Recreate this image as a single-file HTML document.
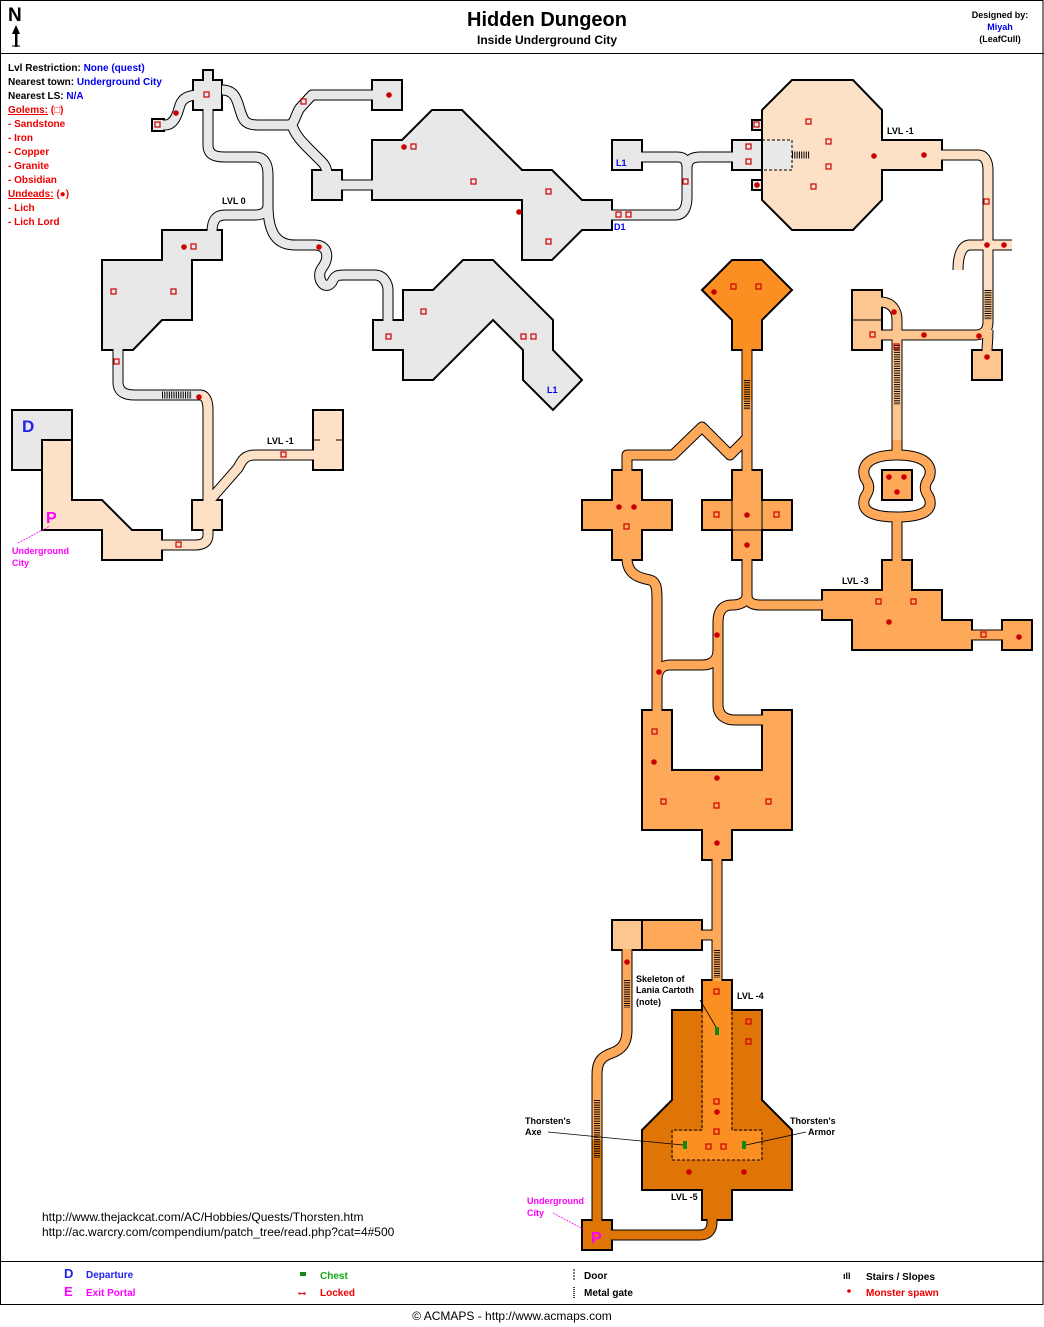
<!DOCTYPE html>
<html><head><meta charset="utf-8"><style>
html,body{margin:0;padding:0;background:#fff}
svg{display:block}
text{font-family:"Liberation Sans",Arial,sans-serif;font-weight:bold}
</style></head><body>
<svg width="1044" height="1327" viewBox="0 0 1044 1327" xmlns="http://www.w3.org/2000/svg">
<defs>
<g id="c0" fill="none">
<path d="M158,125 L165,125 C175,125 178,112 180,105 C183,97 190,95 200,95"/>
<path d="M208,105 L208,145 C208,155 215,157 225,157 L255,157 C265,157 268,165 268,175 L268,205 C268,212 262,215 255,215 L225,215 C215,215 212,222 212,232"/>
<path d="M268,205 C268,235 278,245 295,245 L315,245 C328,245 330,258 322,268 C315,278 325,292 332,282 C335,275 338,275 345,275 L375,275 C383,275 388,283 388,290 L388,325"/>
<path d="M222,90 C235,90 237,100 240,110 C243,120 245,125 258,125 L288,125 C295,125 295,115 300,108 L312,95 L375,95"/>
<path d="M292,125 C295,135 302,142 310,150 L322,162 C328,168 327,175 327,180"/>
<path d="M340,185 L375,185"/>
<path d="M610,215 L675,215 C685,215 687,205 687,197 L687,168 C687,160 692,157 700,157 L735,157"/>
<path d="M640,157 L678,157 C685,157 687,162 687,168"/>
<path d="M118,345 L118,382 C118,392 125,395 135,395 L200,395"/>
</g>
<g id="c1" fill="none">
<path d="M200,395 C205,395 208,400 208,410 L208,505"/>
<path d="M208,528 L208,535 C208,542 203,545 195,545 L160,545"/>
<path d="M210,500 L238,468 C242,460 245,455 255,455 L315,455"/>
<path d="M940,155 L978,155 C985,155 988,162 988,170 L988,292"/>
<path d="M988,245 L1012,245"/>
<path d="M988,245 L970,245 C962,245 958,255 958,270"/>
</g>
<g id="c2" fill="none">
<path d="M988,290 L988,322 C988,330 984,335 975,335 L880,335"/>
<path d="M988,330 C988,340 987,345 987,352"/>
<path d="M880,302 C892,302 897,310 897,320 L897,445"/>
</g>
<g id="c3" fill="none">
<path d="M747,395 L747,505"/>
<path d="M627,472 L627,455 L673,455 L702,427 L730,455 L747,438"/>
<path d="M897,440 L897,455"/>
<path d="M897,455 C870,455 860,465 865,478 C870,485 870,490 865,497 C860,510 870,517 897,517 C924,517 934,510 929,497 C924,490 924,485 929,478 C934,465 924,455 897,455 Z"/>
<path d="M897,517 L897,565"/>
<path d="M747,558 L747,595 C747,602 752,605 760,605 L825,605"/>
<path d="M747,595 C747,602 740,605 732,605 C722,605 718,612 718,622 L718,650 C718,660 712,665 702,665 L670,665 C662,665 657,670 657,680"/>
<path d="M718,650 L718,705 C718,715 725,720 735,720 L765,720"/>
<path d="M627,558 C627,575 640,578 650,580 C657,582 657,590 657,600 L657,713"/>
<path d="M970,635 L1005,635"/>
<path d="M717,858 L717,985"/>
<path d="M700,935 L717,935"/>
<path d="M627,948 L627,1030 C627,1045 620,1050 612,1053 C600,1057 597,1063 597,1075 L597,1145"/>
</g>
<g id="c4" fill="none">
<path d="M747,345 L747,400"/>
</g>
<g id="c5" fill="none">
<path d="M597,1140 L597,1225"/>
<path d="M610,1235 L700,1235 C708,1235 712,1230 712,1222 L712,1215"/>
</g>
</defs>

<rect x="0.5" y="0.5" width="1042.5" height="1304" fill="none" stroke="#000"/>
<line x1="0" y1="53.5" x2="1044" y2="53.5" stroke="#000"/>
<line x1="0" y1="1261.5" x2="1044" y2="1261.5" stroke="#000"/>

<g stroke="#000" stroke-width="11" stroke-linejoin="round">
<use href="#c0"/><use href="#c1"/><use href="#c2"/><use href="#c3"/><use href="#c4"/><use href="#c5"/>
</g>
<g stroke="#000" stroke-width="2">
<g fill="#e8e8e8">
<polygon points="203,70 213,70 213,80 222,80 222,110 193,110 193,80 203,80"/>
<rect x="152" y="119" width="12" height="12"/>
<rect x="372" y="80" width="30" height="30"/>
<rect x="312" y="170" width="30" height="30"/>
<polygon points="372,140 402,140 432,110 462,110 492,140 522,170 552,170 582,200 612,200 612,230 582,230 552,260 522,260 522,200 372,200"/>
<rect x="612" y="140" width="30" height="30"/>
<rect x="732" y="140" width="30" height="30"/>
<rect x="752" y="120" width="10" height="10"/>
<rect x="752" y="180" width="10" height="10"/>
<polygon points="102,260 162,260 162,230 222,230 222,260 192,260 192,320 162,320 133,350 102,350"/>
<polygon points="403,290 433,290 463,260 493,260 553,320 553,350 582,380 553,410 523,380 523,350 493,320 433,380 403,380 403,350 373,350 373,320 403,320"/>
<rect x="12" y="410" width="60" height="60"/>
</g>
<g fill="#fde1c6">
<polygon points="792,80 853,80 882,110 882,140 942,140 942,170 882,170 882,200 853,230 792,230 762,200 762,110"/>
<polygon points="42,440 72,440 72,500 102,500 132,530 162,530 162,560 102,560 102,530 42,530"/>
<rect x="192" y="500" width="30" height="30"/>
<rect x="313" y="410" width="30" height="60"/>
</g>
<g fill="#fcc690">
<rect x="852" y="290" width="30" height="60"/>
<rect x="972" y="350" width="30" height="30"/>
<rect x="612" y="920" width="30" height="30"/>
</g>
<g fill="#fea95a">
<polygon points="612,470 642,470 642,500 672,500 672,530 642,530 642,560 612,560 612,530 582,530 582,500 612,500"/>
<polygon points="702,500 732,500 732,470 762,470 762,500 792,500 792,530 762,530 762,560 732,560 732,530 702,530"/>
<rect x="882" y="470" width="30" height="30"/>
<polygon points="882,560 912,560 912,590 942,590 942,620 972,620 972,650 852,650 852,620 822,620 822,590 882,590"/>
<rect x="1002" y="620" width="30" height="30"/>
<polygon points="642,710 672,710 672,770 762,770 762,710 792,710 792,830 732,830 732,860 702,860 702,830 642,830"/>
<rect x="642" y="920" width="60" height="30"/>
</g>
<g fill="#fb8f22">
<polygon points="732,260 762,260 792,290 762,320 762,350 732,350 732,320 702,290"/>
<rect x="702" y="980" width="30" height="40"/>
</g>
<g fill="#e07507">
<polygon points="672,1010 762,1010 762,1100 792,1130 792,1190 732,1190 732,1220 702,1220 702,1190 642,1190 642,1130 672,1100"/>
<rect x="582" y="1220" width="30" height="30"/>
</g>
</g>

<g stroke-width="9" stroke-linejoin="round">
<use href="#c0" stroke="#e8e8e8"/>
<use href="#c1" stroke="#fde1c6"/>
<use href="#c2" stroke="#fcc690"/>
<use href="#c3" stroke="#fea95a"/>
<use href="#c4" stroke="#fb8f22"/>
<use href="#c5" stroke="#e07507"/>
</g>
<g stroke="none">
<rect x="763" y="141" width="30" height="28" fill="#e8e8e8"/>
<polygon points="43,441 71,441 71,501 101,501 131,531 161,531 161,559 103,559 103,529 43,529" fill="#fde1c6"/>
<rect x="703" y="981" width="28" height="30" fill="#fb8f22"/>
<rect x="703" y="1011" width="28" height="120" fill="#fb8f22"/>
<rect x="673" y="1131" width="88" height="29" fill="#fb8f22"/>
<rect x="613" y="921" width="28" height="28" fill="#fcc690"/>
</g>
<g fill="none" stroke="#000" stroke-width="1" stroke-dasharray="3,2">
<polyline points="762,140 792,140 792,170 762,170"/>
<polyline points="42,470 42,440 72,440"/>
<line x1="642" y1="920" x2="642" y2="950"/>
<polyline points="702,1010 702,1130 672,1130 672,1160 762,1160 762,1130 732,1130 732,1010"/>
</g>
<line x1="313" y1="440" x2="320" y2="440" stroke="#000"/><line x1="336" y1="440" x2="343" y2="440" stroke="#000"/>
<line x1="732" y1="500" x2="732" y2="530" stroke="#000"/><line x1="762" y1="500" x2="762" y2="530" stroke="#000"/><line x1="732" y1="530" x2="762" y2="530" stroke="#000"/>
<line x1="852" y1="320" x2="882" y2="320" stroke="#000"/>

<g stroke="#000" stroke-width="1" stroke-dasharray="1,1.3">
<line x1="162" y1="395" x2="192" y2="395" stroke-width="7"/>
<line x1="792" y1="155" x2="810" y2="155" stroke-width="7"/>
<line x1="988" y1="290" x2="988" y2="320" stroke-width="7"/>
<line x1="897" y1="345" x2="897" y2="405" stroke-width="6"/>
<line x1="747" y1="380" x2="747" y2="410" stroke-width="6"/>
<line x1="717" y1="950" x2="717" y2="978" stroke-width="6"/>
<line x1="627" y1="980" x2="627" y2="1008" stroke-width="6"/>
<line x1="597" y1="1100" x2="597" y2="1158" stroke-width="6"/>
</g>

<g fill="none" stroke="#cc0000" stroke-width="1.2">
<rect x="155" y="122" width="5" height="5"/><rect x="204" y="92" width="5" height="5"/><rect x="301" y="99" width="5" height="5"/>
<rect x="411" y="144" width="5" height="5"/><rect x="471" y="179" width="5" height="5"/><rect x="546" y="189" width="5" height="5"/><rect x="546" y="239" width="5" height="5"/>
<rect x="191" y="244" width="5" height="5"/><rect x="111" y="289" width="5" height="5"/><rect x="171" y="289" width="5" height="5"/><rect x="114" y="359" width="5" height="5"/>
<rect x="421" y="309" width="5" height="5"/><rect x="386" y="334" width="5" height="5"/><rect x="521" y="334" width="5" height="5"/><rect x="531" y="334" width="5" height="5"/>
<rect x="616" y="212" width="5" height="5"/><rect x="626" y="212" width="5" height="5"/><rect x="683" y="179" width="5" height="5"/>
<rect x="754" y="122" width="5" height="5"/><rect x="746" y="144" width="5" height="5"/><rect x="746" y="159" width="5" height="5"/>
<rect x="806" y="119" width="5" height="5"/><rect x="826" y="139" width="5" height="5"/><rect x="826" y="164" width="5" height="5"/><rect x="811" y="184" width="5" height="5"/>
<rect x="984" y="199" width="5" height="5"/><rect x="281" y="452" width="5" height="5"/><rect x="176" y="542" width="5" height="5"/>
<rect x="870" y="332" width="5" height="5"/><rect x="894" y="344" width="5" height="5"/>
<rect x="731" y="284" width="5" height="5"/><rect x="756" y="284" width="5" height="5"/>
<rect x="624" y="524" width="5" height="5"/><rect x="714" y="512" width="5" height="5"/><rect x="774" y="512" width="5" height="5"/>
<rect x="876" y="599" width="5" height="5"/><rect x="911" y="599" width="5" height="5"/><rect x="981" y="632" width="5" height="5"/>
<rect x="652" y="729" width="5" height="5"/><rect x="661" y="799" width="5" height="5"/><rect x="714" y="803" width="5" height="5"/><rect x="766" y="799" width="5" height="5"/>
<rect x="714" y="989" width="5" height="5"/><rect x="746" y="1019" width="5" height="5"/><rect x="746" y="1039" width="5" height="5"/>
<rect x="714" y="1099" width="5" height="5"/><rect x="714" y="1129" width="5" height="5"/><rect x="706" y="1144" width="5" height="5"/><rect x="721" y="1144" width="5" height="5"/>
</g>
<g fill="#cc0000">
<circle cx="176" cy="113" r="2.8"/><circle cx="389" cy="95" r="2.8"/><circle cx="404" cy="147" r="2.8"/><circle cx="519" cy="212" r="2.8"/>
<circle cx="319" cy="247" r="2.8"/><circle cx="184" cy="247" r="2.8"/><circle cx="199" cy="397" r="2.8"/><circle cx="757" cy="185" r="2.8"/>
<circle cx="874" cy="156" r="2.8"/><circle cx="924" cy="155" r="2.8"/><circle cx="987" cy="245" r="2.8"/><circle cx="1004" cy="245" r="2.8"/>
<circle cx="894" cy="312" r="2.8"/><circle cx="924" cy="335" r="2.8"/><circle cx="979" cy="336" r="2.8"/><circle cx="987" cy="357" r="2.8"/>
<circle cx="714" cy="292" r="2.8"/><circle cx="619" cy="507" r="2.8"/><circle cx="634" cy="507" r="2.8"/><circle cx="747" cy="515" r="2.8"/><circle cx="747" cy="545" r="2.8"/>
<circle cx="889" cy="477" r="2.8"/><circle cx="904" cy="477" r="2.8"/><circle cx="897" cy="492" r="2.8"/><circle cx="889" cy="622" r="2.8"/><circle cx="1019" cy="637" r="2.8"/>
<circle cx="717" cy="635" r="2.8"/><circle cx="659" cy="672" r="2.8"/><circle cx="654" cy="762" r="2.8"/><circle cx="717" cy="778" r="2.8"/><circle cx="717" cy="843" r="2.8"/>
<circle cx="627" cy="962" r="2.8"/><circle cx="717" cy="1112" r="2.8"/><circle cx="689" cy="1172" r="2.8"/><circle cx="744" cy="1172" r="2.8"/>
</g>
<g fill="#118811"><rect x="715" y="1027" width="4" height="8"/><rect x="683" y="1141" width="4" height="8"/><rect x="742" y="1141" width="4" height="8"/></g>

<g stroke="#000" stroke-width="0.8" fill="none">
<line x1="700" y1="1000" x2="716" y2="1027"/>
<line x1="548" y1="1132" x2="683" y2="1145"/>
<line x1="806" y1="1132" x2="746" y2="1145"/>
</g>
<g stroke="#ff00ff" stroke-width="0.8" stroke-dasharray="2,1"><line x1="18" y1="543" x2="50" y2="526"/><line x1="553" y1="1213" x2="585" y2="1230"/></g>

<text x="8" y="21" font-size="19" fill="#000">N</text>
<polygon points="16,25 12,34 20,34" fill="#000"/><rect x="15" y="33" width="2.5" height="14" fill="#000"/><line x1="12" y1="46" x2="20" y2="46" stroke="#000"/>

<text x="547" y="26" font-size="20" text-anchor="middle">Hidden Dungeon</text>
<text x="547" y="44" font-size="12" text-anchor="middle">Inside Underground City</text>
<text x="1000" y="18" font-size="9" text-anchor="middle">Designed by:</text>
<text x="1000" y="30" font-size="9" text-anchor="middle" fill="#0000ee">Miyah</text>
<text x="1000" y="42" font-size="9" text-anchor="middle">(LeafCull)</text>

<g font-size="10">
<text x="8" y="71">Lvl Restriction:  <tspan fill="#0000ee">None (quest)</tspan></text>
<text x="8" y="85">Nearest town: <tspan fill="#0000ee">Underground City</tspan></text>
<text x="8" y="99">Nearest LS:  <tspan fill="#0000ee">N/A</tspan></text>
<g fill="#ee0000">
<text x="8" y="113"><tspan text-decoration="underline">Golems:</tspan> (□)</text>
<text x="8" y="127">- Sandstone</text><text x="8" y="141">- Iron</text><text x="8" y="155">- Copper</text>
<text x="8" y="169">- Granite</text><text x="8" y="183">- Obsidian</text>
<text x="8" y="197"><tspan text-decoration="underline">Undeads:</tspan> (●)</text>
<text x="8" y="211">- Lich</text><text x="8" y="225">- Lich Lord</text>
</g>
</g>
<g font-size="9">
<text x="222" y="204">LVL 0</text>
<text x="887" y="134">LVL -1</text>
<text x="267" y="444">LVL -1</text>
<text x="842" y="584">LVL -3</text>
<text x="737" y="999">LVL -4</text>
<text x="671" y="1200">LVL -5</text>
<text x="636" y="982">Skeleton of</text><text x="636" y="993">Lania Cartoth</text><text x="636" y="1005">(note)</text>
<text x="525" y="1124">Thorsten's</text><text x="525" y="1135">Axe</text>
<text x="790" y="1124">Thorsten's</text><text x="808" y="1135">Armor</text>
<text x="614" y="230" fill="#0000ee">D1</text>
<text x="616" y="166" fill="#0000ee" font-weight="normal">L1</text>
<text x="547" y="393" fill="#0000ee" font-weight="normal">L1</text>
<text x="12" y="554" fill="#ff00ff">Underground</text><text x="12" y="566" fill="#ff00ff">City</text>
<text x="527" y="1204" fill="#ff00ff">Underground</text><text x="527" y="1216" fill="#ff00ff">City</text>
</g>
<text x="22" y="432" font-size="17" fill="#2222ee">D</text>
<text x="46" y="523" font-size="16" fill="#ff00ff">P</text>
<text x="591" y="1243" font-size="16" fill="#ff00ff">P</text>

<g font-size="12">
<text x="42" y="1221" style="font-weight:normal">http://www.thejackcat.com/AC/Hobbies/Quests/Thorsten.htm</text>
<text x="42" y="1236" style="font-weight:normal">http://ac.warcry.com/compendium/patch_tree/read.php?cat=4#500</text>
</g>

<g font-size="10">
<text x="64" y="1278" font-size="13" fill="#2222ee">D</text><text x="86" y="1278" fill="#2222ee">Departure</text>
<text x="64" y="1296" font-size="13" fill="#ff00ff">E</text><text x="86" y="1296" fill="#ff00ff">Exit Portal</text>
<rect x="300" y="1272" width="6" height="4" fill="#118811"/><text x="320" y="1279" fill="#11aa11">Chest</text>
<text x="298" y="1296" fill="#ee0000" font-size="8">⊶</text><text x="320" y="1296" fill="#ee0000">Locked</text>
<line x1="574" y1="1269" x2="574" y2="1280" stroke="#000" stroke-dasharray="2,1"/><text x="584" y="1279">Door</text>
<line x1="574" y1="1287" x2="574" y2="1298" stroke="#000" stroke-width="1.5" stroke-dasharray="1,1"/><text x="584" y="1296">Metal gate</text>
<text x="843" y="1279" font-size="9">ıll</text><text x="866" y="1280">Stairs / Slopes</text>
<circle cx="849" cy="1291" r="1.8" fill="#ee0000"/><text x="866" y="1296" fill="#ee0000">Monster spawn</text>
</g>
<text x="512" y="1320" font-size="12" text-anchor="middle" style="font-weight:normal">© ACMAPS - http://www.acmaps.com</text>
</svg>
</body></html>
